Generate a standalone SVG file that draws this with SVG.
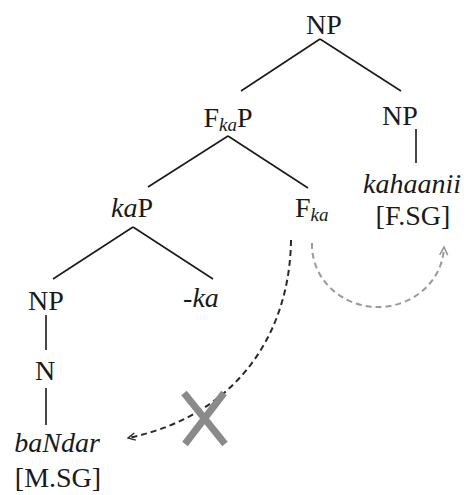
<svg xmlns="http://www.w3.org/2000/svg" width="469" height="495" viewBox="0 0 469 495">
  <style>
    .lbl { font-family: "Liberation Serif", "Times New Roman", serif; font-size: 28px; fill: #1a1a1a; }
    .it { font-style: italic; }
    .sub { font-style: italic; font-size: 19px; }
    .edge { stroke: #1a1a1a; stroke-width: 1.6; fill: none; }
    .agree-bad { stroke: #2a2a2a; stroke-width: 2; fill: none; stroke-dasharray: 6 4; }
    .agree-ok { stroke: #9a9a9a; stroke-width: 2; fill: none; stroke-dasharray: 6 4; }
    .cross { stroke: #8a8a8a; stroke-width: 7; }
  </style>
  <defs>
    <marker id="headDark" viewBox="0 0 10 10" refX="9" refY="5" markerWidth="9" markerHeight="9" markerUnits="userSpaceOnUse" orient="auto">
      <path d="M1,1 L9,5 L1,9" fill="none" stroke="#2a2a2a" stroke-width="1.6"/>
    </marker>
    <marker id="headGrey" viewBox="0 0 10 10" refX="9" refY="5" markerWidth="10" markerHeight="10" markerUnits="userSpaceOnUse" orient="auto">
      <path d="M1,1 L9,5 L1,9" fill="none" stroke="#9a9a9a" stroke-width="1.6"/>
    </marker>
  </defs>

  <rect width="469" height="495" fill="#ffffff"/>

  <!-- tree branches and agreement arrows -->
  <g id="connectors">
    <line class="edge" x1="320" y1="39" x2="241" y2="91"/>
    <line class="edge" x1="320" y1="39" x2="401" y2="91"/>
    <line class="edge" x1="416" y1="129" x2="416" y2="163"/>
    <line class="edge" x1="228" y1="136" x2="148" y2="187"/>
    <line class="edge" x1="228" y1="136" x2="308" y2="188"/>
    <line class="edge" x1="133" y1="227" x2="53" y2="279"/>
    <line class="edge" x1="133" y1="227" x2="213" y2="279"/>
    <line class="edge" x1="46" y1="315" x2="46" y2="350"/>
    <line class="edge" x1="46" y1="388" x2="46" y2="425"/>
    <!-- blocked agreement: F_ka to baNdar -->
    <path class="agree-bad" d="M291,240 C290,330 240,415 128,438" marker-end="url(#headDark)"/>
    <!-- successful agreement: F_ka to kahaanii -->
    <path class="agree-ok" d="M312,243 A66,62 0 0 0 444,247" marker-end="url(#headGrey)"/>
  </g>

  <g id="np-root"><text class="lbl" x="324" y="34" text-anchor="middle">NP</text></g>
  <g id="fkap"><text class="lbl" x="228" y="127" text-anchor="middle">F<tspan class="sub" dy="4">ka</tspan><tspan dy="-4">P</tspan></text></g>
  <g id="np-right"><text class="lbl" x="400" y="125" text-anchor="middle">NP</text></g>
  <g id="kahaanii">
    <text class="lbl it" x="412" y="193" text-anchor="middle">kahaanii</text>
    <text class="lbl" x="413" y="225" text-anchor="middle">[F.SG]</text>
  </g>
  <g id="kap"><text class="lbl" x="132" y="217" text-anchor="middle"><tspan class="it">ka</tspan>P</text></g>
  <g id="fka"><text class="lbl" x="295" y="217">F<tspan class="sub" dy="4">ka</tspan></text></g>
  <g id="np-left"><text class="lbl" x="46" y="310" text-anchor="middle">NP</text></g>
  <g id="ka-suffix"><text class="lbl it" x="201" y="307" text-anchor="middle">-ka</text></g>
  <g id="n"><text class="lbl" x="45" y="380" text-anchor="middle">N</text></g>
  <g id="bandar">
    <text class="lbl it" x="57" y="452" text-anchor="middle">baNdar</text>
    <text class="lbl" x="58" y="487" text-anchor="middle">[M.SG]</text>
  </g>

  <!-- cross marking the blocked path -->
  <g id="block-mark">
    <line class="cross" x1="184" y1="393" x2="225" y2="444"/>
    <line class="cross" x1="224" y1="393" x2="185" y2="444"/>
  </g>
</svg>
